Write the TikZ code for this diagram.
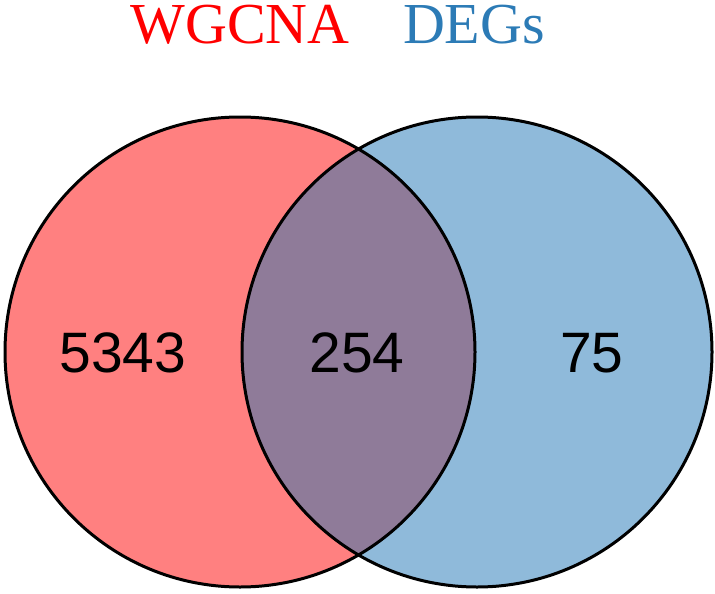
\documentclass[tikz,border=0pt]{standalone}
\usepackage{fontspec}
\setmainfont{Liberation Serif}
\newfontfamily\numfont{Liberation Sans}
\definecolor{setA}{HTML}{FF8080}
\definecolor{setB}{HTML}{8FBADA}
\definecolor{setAB}{HTML}{8F7B99}
\definecolor{titleA}{HTML}{FF0000}
\definecolor{titleB}{HTML}{2C7BB6}
\begin{document}
\begin{tikzpicture}[x=1pt,y=-1pt,
  setcircle/.style={circle, minimum size=470pt, inner sep=0pt, outer sep=0pt},
  count/.style={font=\numfont\fontsize{57}{60}\selectfont, text=black, inner sep=0pt},
  settitle/.style={font=\fontsize{58}{62}\selectfont, inner sep=0pt, anchor=base}]
\useasboundingbox (0,0) rectangle (715,594);
% fills
\node[setcircle, fill=setA] (A) at (240,352) {};
\node[setcircle, fill=setB] (B) at (477,352) {};
\begin{scope}
  \clip (240,352) circle (235pt);
  \fill[setAB] (477,352) circle (235pt);
\end{scope}
% outlines
\draw[line width=3pt] (240,352) circle (235pt);
\draw[line width=3pt] (477,352) circle (235pt);
% counts
\node[count] (nA) at (123,353) {5343};
\node[count] (nAB) at (357,353) {254};
\node[count] (nB) at (592,353) {75};
% titles
\node[settitle, text=titleA] (tA) at (240,44) {WGCNA};
\node[settitle, text=titleB] (tB) at (474,44) {DEGs};
\end{tikzpicture}
\end{document}
